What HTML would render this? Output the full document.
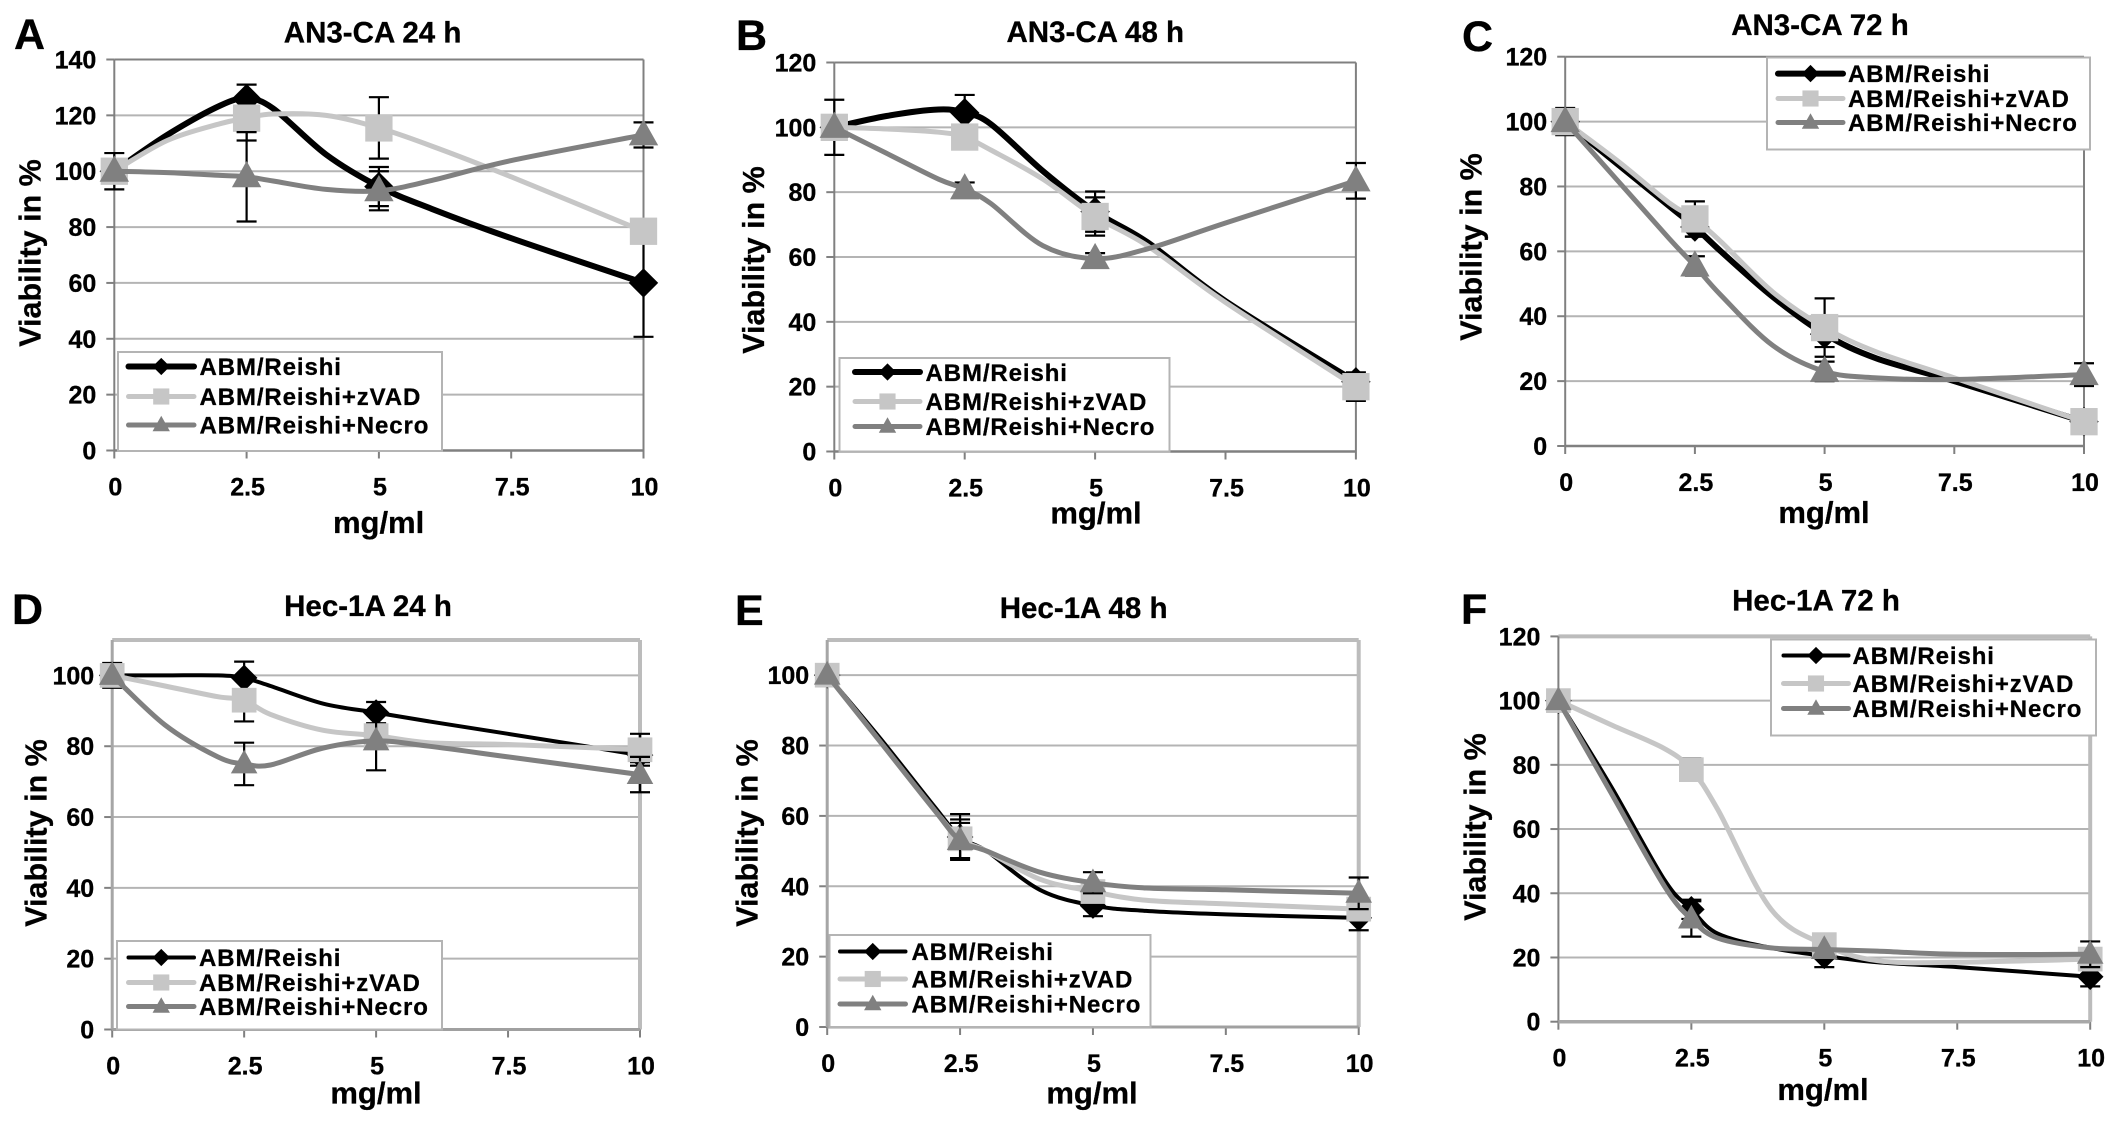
<!DOCTYPE html>
<html lang="en">
<head>
<meta charset="utf-8">
<title>Viability of AN3-CA and Hec-1A cells</title>
<style>
html,body{margin:0;padding:0;background:#fff;width:2126px;height:1126px;overflow:hidden}
svg{display:block}
text{font-family:"Liberation Sans",sans-serif;font-weight:bold;fill:#000;stroke:#000;stroke-width:.3}
.title{font-size:29.5px;text-anchor:middle}
.letter{font-size:43px}
.axt{font-size:30.5px;text-anchor:middle}
.xt{font-size:31px;text-anchor:middle}
.leg{font-size:24px;letter-spacing:.9px}
.box{fill:#fff;stroke:#b4b4b4;stroke-width:2}
</style>
</head>
<body>
<svg id="figure" xmlns="http://www.w3.org/2000/svg" width="2126" height="1126" viewBox="0 0 2126 1126">
<rect width="2126" height="1126" fill="#fff"/>

<g id="panel-a">
  <g id="plot-a"></g>
  <text class="letter" x="14" y="49">A</text>
  <text class="title" x="372.6" y="42.5">AN3-CA 24 h</text>
  <text class="axt" transform="translate(40.5,253) rotate(-90)">Viability in %</text>
  <text class="xt" x="378.6" y="533">mg/ml</text>
  <g>
    <rect class="box" x="118" y="352" width="324" height="99"/>
    <g id="samples-a"></g>
    <text class="leg" x="199.5" y="375">ABM/Reishi</text>
    <text class="leg" x="199.5" y="405">ABM/Reishi+zVAD</text>
    <text class="leg" x="199.5" y="433.5">ABM/Reishi+Necro</text>
  </g>
</g>

<g id="panel-b">
  <g id="plot-b"></g>
  <text class="letter" x="736" y="50">B</text>
  <text class="title" x="1095.3" y="42">AN3-CA 48 h</text>
  <text class="axt" transform="translate(764,260) rotate(-90)">Viability in %</text>
  <text class="xt" x="1096" y="523.5">mg/ml</text>
  <g>
    <rect class="box" x="839.5" y="358" width="330" height="93.5"/>
    <g id="samples-b"></g>
    <text class="leg" x="925.5" y="381">ABM/Reishi</text>
    <text class="leg" x="925.5" y="410">ABM/Reishi+zVAD</text>
    <text class="leg" x="925.5" y="435">ABM/Reishi+Necro</text>
  </g>
</g>

<g id="panel-c">
  <g id="plot-c"></g>
  <text class="letter" x="1462" y="51">C</text>
  <text class="title" x="1820" y="35">AN3-CA 72 h</text>
  <text class="axt" transform="translate(1481.5,247) rotate(-90)">Viability in %</text>
  <text class="xt" x="1824" y="523">mg/ml</text>
  <g>
    <rect class="box" x="1767" y="57.5" width="323" height="92"/>
    <g id="samples-c"></g>
    <text class="leg" x="1848" y="82">ABM/Reishi</text>
    <text class="leg" x="1848" y="107">ABM/Reishi+zVAD</text>
    <text class="leg" x="1848" y="131">ABM/Reishi+Necro</text>
  </g>
</g>

<g id="panel-d">
  <g id="plot-d"></g>
  <text class="letter" x="12" y="624">D</text>
  <text class="title" x="368" y="616">Hec-1A 24 h</text>
  <text class="axt" transform="translate(46.5,833) rotate(-90)">Viability in %</text>
  <text class="xt" x="376" y="1103.5">mg/ml</text>
  <g>
    <rect class="box" x="117" y="941" width="325" height="88.5"/>
    <g id="samples-d"></g>
    <text class="leg" x="199" y="966">ABM/Reishi</text>
    <text class="leg" x="199" y="991">ABM/Reishi+zVAD</text>
    <text class="leg" x="199" y="1015">ABM/Reishi+Necro</text>
  </g>
</g>

<g id="panel-e">
  <g id="plot-e"></g>
  <text class="letter" x="735" y="625">E</text>
  <text class="title" x="1083.6" y="618">Hec-1A 48 h</text>
  <text class="axt" transform="translate(757.5,833) rotate(-90)">Viability in %</text>
  <text class="xt" x="1092" y="1103.5">mg/ml</text>
  <g>
    <rect class="box" x="829.5" y="935" width="321" height="92"/>
    <g id="samples-e"></g>
    <text class="leg" x="911.5" y="960">ABM/Reishi</text>
    <text class="leg" x="911.5" y="987.5">ABM/Reishi+zVAD</text>
    <text class="leg" x="911.5" y="1012.5">ABM/Reishi+Necro</text>
  </g>
</g>

<g id="panel-f">
  <g id="plot-f"></g>
  <text class="letter" x="1461" y="624">F</text>
  <text class="title" x="1816" y="610.5">Hec-1A 72 h</text>
  <text class="axt" transform="translate(1485.5,827) rotate(-90)">Viability in %</text>
  <text class="xt" x="1823" y="1100">mg/ml</text>
  <g>
    <rect class="box" x="1771" y="639.5" width="325" height="96"/>
    <g id="samples-f"></g>
    <text class="leg" x="1852.5" y="664">ABM/Reishi</text>
    <text class="leg" x="1852.5" y="692">ABM/Reishi+zVAD</text>
    <text class="leg" x="1852.5" y="717">ABM/Reishi+Necro</text>
  </g>
</g>
</svg>

<script>
// ---- data ----
const doses = [0, 1, 2, 2.5, 3, 4, 5, 6, 7.5, 10];
const markerDoses = [0, 2.5, 5, 10];
const xTickLabels = ["0", "2.5", "5", "7.5", "10"];
const xTickValues = [0, 2.5, 5, 7.5, 10];
const yTicks140 = [0, 20, 40, 60, 80, 100, 120, 140];
const yTicks120 = [0, 20, 40, 60, 80, 100, 120];
const yTicks100 = [0, 20, 40, 60, 80, 100];

const aReishi = [100, 113, 123.5, 126, 122.5, 106, 94.5, 86.5, 76, 60];
const aZvad   = [100, 111, 117, 119, 120.5, 120, 115.5, 109, 98, 78.5];
const aNecro  = [100, 99.5, 98.5, 98, 96.5, 93.5, 93, 96.7, 103.8, 113];
const aReishiErr = [6.5, 5, 7, 19.3];
const aZvadErr   = [0, 8, 11, 0];
const aNecroErr  = [0, 16, 7, 4.5];

const bReishi = [100, 103.5, 105.5, 104.5, 101, 86.5, 74, 64.6, 46.4, 21.5];
const bZvad   = [100, 99.5, 98.5, 97, 93, 84, 72.5, 63.5, 46, 20];
const bNecro  = [100, 92, 84, 81, 76.5, 63.5, 59.5, 62.5, 70.5, 83.5];
const bReishiErr = [8.5, 5.5, 6.2, 2];
const bZvadErr   = [0, 0, 5.9, 4.4];
const bNecroErr  = [0, 2, 1.7, 5.5];

const cReishi = [100, 87, 74, 67.5, 60, 46, 34.5, 27, 20, 7.5];
const cZvad   = [100, 88, 75, 70, 63, 47.5, 36.5, 29, 21, 7.5];
const cNecro  = [100, 82, 64, 55.5, 46.5, 31, 23, 21, 20.5, 22];
const cReishiErr = [4.2, 3, 4, 3];
const cZvadErr   = [0, 5.4, 9, 0];
const cNecroErr  = [0, 3, 3, 3.5];

const dReishi = [100, 100, 100, 99.3, 97, 92, 89.5, 87, 83.5, 77.5];
const dZvad   = [100, 97, 94, 93, 89, 84.5, 83, 81, 80.5, 79];
const dNecro  = [100, 86, 77, 75, 74.7, 79.5, 81.5, 80, 77, 72];
const dReishiErr = [3.5, 4.6, 3, 2];
const dZvadErr   = [0, 6, 3, 4.5];
const dNecroErr  = [0, 6, 8.3, 5];

const eReishi = [100, 82, 63, 54, 50, 39, 34.5, 33, 32, 31];
const eZvad   = [100, 81, 62, 53.5, 50, 42, 38.5, 36, 35, 33.5];
const eNecro  = [100, 81, 62, 53, 50, 44, 41, 39.5, 39, 38];
const eReishiErr = [0, 6.5, 3, 3.5];
const eZvadErr   = [0, 5.5, 0, 0];
const eNecroErr  = [0, 5, 3, 4.5];

const fReishi = [100, 73, 44, 35, 27.4, 23, 20.5, 18.5, 17, 14];
const fZvad   = [100, 92.4, 85, 78.5, 66, 35, 24, 19, 18.5, 19.5];
const fNecro  = [100, 71, 42, 32, 26, 23, 22.5, 22, 21, 21];
const fReishiErr = [0, 3, 3.5, 3];
const fZvadErr   = [0, 3.5, 0, 0];
const fNecroErr  = [0, 5.5, 0, 4];

// ---- layout & style (not data) ----
const COL = {reishi: "#000", zvad: "#c6c6c6", necro: "#808080"};
const FRAME_THIN = {top: ["#808080", 2], right: ["#808080", 2], left: ["#808080", 2], bottom: ["#808080", 2.5]};
const FRAME_THICK = {top: ["#bcbcbc", 4], right: ["#bcbcbc", 4], left: ["#a6a6a6", 3], bottom: ["#a0a0a0", 3]};
const FRAME_MIX = {top: ["#bcbcbc", 4], right: ["#bcbcbc", 4], left: ["#808080", 2], bottom: ["#a8a8a8", 3.5]};

const panels = [
 {id:"a", x0:114.3, x10:643.5, y0:450.5, yTop:59.5, yMax:140, ticks:yTicks140, frame:FRAME_THIN, bw:6, mk:1.05,
  reishi:aReishi, zvad:aZvad, necro:aNecro, reishiErr:aReishiErr, zvadErr:aZvadErr, necroErr:aNecroErr,
  lx1:128.5, lx2:194, rows:[366.5, 396.5, 425]},
 {id:"b", x0:834.3, x10:1355.9, y0:451.5, yTop:62.5, yMax:120, ticks:yTicks120, frame:FRAME_THIN, bw:6, mk:1.05,
  reishi:bReishi, zvad:bZvad, necro:bNecro, reishiErr:bReishiErr, zvadErr:bZvadErr, necroErr:bNecroErr,
  lx1:855, lx2:920, rows:[372, 401.5, 426.5]},
 {id:"c", x0:1565.2, x10:2084, y0:446, yTop:56.7, yMax:120, ticks:yTicks120, frame:FRAME_THIN, bw:6, mk:1.05,
  reishi:cReishi, zvad:cZvad, necro:cNecro, reishiErr:cReishiErr, zvadErr:cZvadErr, necroErr:cNecroErr,
  lx1:1778, lx2:1843, rows:[73.6, 98.5, 122.5]},
 {id:"d", x0:112.2, x10:640, y0:1029.5, yTop:640, yMax:110, ticks:yTicks100, frame:FRAME_THICK, bw:4, mk:.95,
  reishi:dReishi, zvad:dZvad, necro:dNecro, reishiErr:dReishiErr, zvadErr:dZvadErr, necroErr:dNecroErr,
  lx1:128.5, lx2:194, rows:[957.5, 982.5, 1006.5]},
 {id:"e", x0:827.2, x10:1358.7, y0:1027, yTop:640, yMax:110, ticks:yTicks100, frame:FRAME_THICK, bw:4, mk:.95,
  reishi:eReishi, zvad:eZvad, necro:eNecro, reishiErr:eReishiErr, zvadErr:eZvadErr, necroErr:eNecroErr,
  lx1:840, lx2:905.5, rows:[951.5, 979, 1004]},
 {id:"f", x0:1558.4, x10:2090.2, y0:1021.7, yTop:636.4, yMax:120, ticks:yTicks120, frame:FRAME_MIX, bw:4, mk:.95,
  reishi:fReishi, zvad:fZvad, necro:fNecro, reishiErr:fReishiErr, zvadErr:fZvadErr, necroErr:fNecroErr,
  lx1:1783.5, lx2:1848.5, rows:[655.5, 683.5, 708.5]}
];

const NS = "http://www.w3.org/2000/svg";
function make(parent, tag, attrs) {
  const e = document.createElementNS(NS, tag);
  for (const k in attrs) e.setAttribute(k, attrs[k]);
  parent.appendChild(e);
  return e;
}

function smoothPath(pts) {
  let d = "M" + pts[0][0].toFixed(1) + " " + pts[0][1].toFixed(1);
  for (let i = 0; i < pts.length - 1; i++) {
    const p0 = pts[Math.max(0, i - 1)], p1 = pts[i], p2 = pts[i + 1], p3 = pts[Math.min(pts.length - 1, i + 2)];
    const c1x = p1[0] + (p2[0] - p0[0]) / 6, c1y = p1[1] + (p2[1] - p0[1]) / 6;
    const c2x = p2[0] - (p3[0] - p1[0]) / 6, c2y = p2[1] - (p3[1] - p1[1]) / 6;
    d += "C" + [c1x, c1y, c2x, c2y, p2[0], p2[1]].map(v => v.toFixed(1)).join(" ");
  }
  return d;
}

function marker(parent, kind, cx, cy, s, label) {
  let e;
  if (kind === "reishi") {
    const h = 14 * s;
    e = make(parent, "polygon", {points: [[cx, cy - h], [cx + h, cy], [cx, cy + h], [cx - h, cy]].join(" "), fill: COL.reishi});
  } else if (kind === "zvad") {
    const h = 13 * s;
    e = make(parent, "rect", {x: cx - h, y: cy - h, width: 2 * h, height: 2 * h, fill: COL.zvad});
  } else {
    const w = 14 * s, up = 15 * s, dn = 10 * s;
    e = make(parent, "polygon", {points: [[cx, cy - up], [cx + w, cy + dn], [cx - w, cy + dn]].join(" "), fill: COL.necro});
  }
  
  
  return e;
}

function drawPanel(p) {
  const g = document.getElementById("plot-" + p.id);
  const sx = v => p.x0 + (p.x10 - p.x0) * v / 10;
  const sy = v => p.y0 - (p.y0 - p.yTop) * v / p.yMax;

  // gridlines & y ticks
  p.ticks.forEach(t => {
    if (t > 0 && t < p.yMax) {
      const gl = make(g, "line", {x1: p.x0, x2: p.x10, y1: sy(t), y2: sy(t), stroke: "#b4b4b4", "stroke-width": 2});
      
      
    }
    const tk = make(g, "line", {x1: p.x0 - 8, x2: p.x0, y1: sy(t), y2: sy(t), stroke: "#808080", "stroke-width": 2});
    
    
    const lb = make(g, "text", {x: p.x0 - 18, y: sy(t) + 9, "text-anchor": "end", "font-size": 25});
    lb.textContent = String(t);
    
    
  });

  // x ticks
  xTickValues.forEach((v, i) => {
    const tk = make(g, "line", {x1: sx(v), x2: sx(v), y1: p.y0, y2: p.y0 + 8, stroke: "#808080", "stroke-width": 2});
    
    
    const lb = make(g, "text", {x: sx(v) + 1, y: p.y0 + 45, "text-anchor": "middle", "font-size": 25});
    lb.textContent = xTickLabels[i];
    
    
  });

  // plot frame
  const fr = p.frame;
  const top = make(g, "line", {x1: p.x0, x2: p.x10, y1: p.yTop, y2: p.yTop, stroke: fr.top[0], "stroke-width": fr.top[1]});
  
  
  const right = make(g, "line", {x1: p.x10, x2: p.x10, y1: p.yTop, y2: p.y0, stroke: fr.right[0], "stroke-width": fr.right[1]});
  
  
  const left = make(g, "line", {x1: p.x0, x2: p.x0, y1: p.yTop, y2: p.y0, stroke: fr.left[0], "stroke-width": fr.left[1]});
  
  
  const bottom = make(g, "line", {x1: p.x0, x2: p.x10, y1: p.y0, y2: p.y0, stroke: fr.bottom[0], "stroke-width": fr.bottom[1]});
  
  

  // series
  ["reishi", "zvad", "necro"].forEach(kind => {
    const vals = p[kind], errs = p[kind + "Err"];
    const sg = make(g, "g", {});
    
    

    markerDoses.forEach((d, i) => {
      const v = vals[doses.indexOf(d)], er = errs[i];
      if (!er) return;
      const x = sx(d);
      const eg = make(sg, "path", {
        d: "M" + x + " " + sy(v + er) + "V" + sy(v - er) +
           "M" + (x - 10) + " " + sy(v + er) + "h20" +
           "M" + (x - 10) + " " + sy(v - er) + "h20",
        stroke: "#000", "stroke-width": 2.2, fill: "none"
      });
      
      
    });

    const pts = doses.map((d, i) => [sx(d), sy(vals[i])]);
    const ln = make(sg, "path", {
      d: smoothPath(pts), fill: "none", stroke: COL[kind],
      "stroke-width": kind === "reishi" ? p.bw : 5, "stroke-linejoin": "round", "stroke-linecap": "round"
    });
    
    

    markerDoses.forEach(d => {
      marker(sg, kind, sx(d), sy(vals[doses.indexOf(d)]), p.mk, "marker-" + kind + "-" + d);
    });
  });

  // legend samples
  const sm = document.getElementById("samples-" + p.id);
  ["reishi", "zvad", "necro"].forEach((kind, i) => {
    const y = p.rows[i];
    const ln = make(sm, "line", {
      x1: p.lx1, x2: p.lx2, y1: y, y2: y, stroke: COL[kind],
      "stroke-width": kind === "reishi" ? p.bw : 5, "stroke-linecap": "round"
    });
    
    
    marker(sm, kind, (p.lx1 + p.lx2) / 2, y, .62, "legend-marker-" + kind);
  });
}

panels.forEach(drawPanel);
</script>
</body>
</html>
